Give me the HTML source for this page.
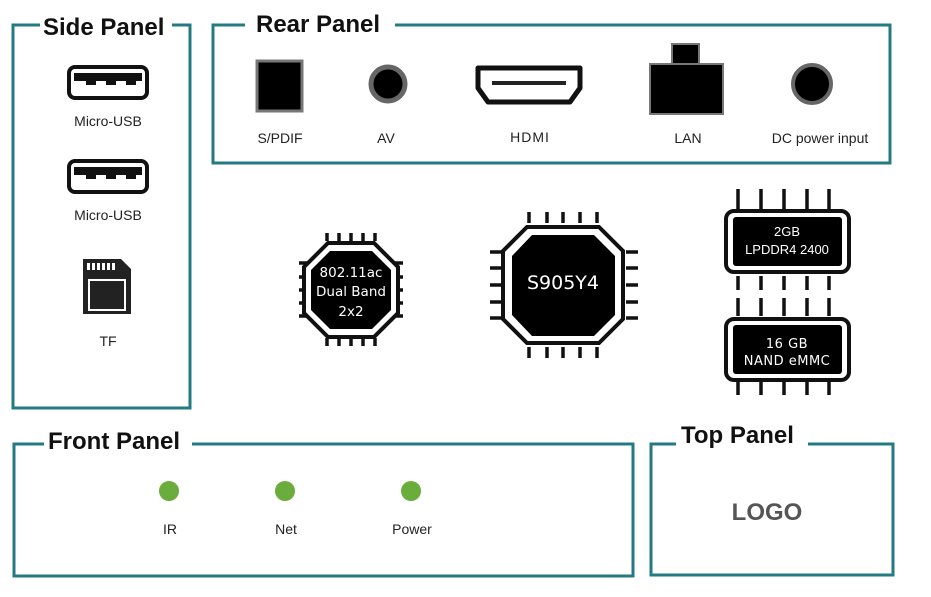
<!DOCTYPE html><html><head><style>body{margin:0;background:#fff}svg{display:block}svg text{font-family:"Liberation Sans",Arial,sans-serif}svg text.dv{font-family:"DejaVu Sans",sans-serif}</style></head><body>
<svg width="931" height="597" viewBox="0 0 931 597">
<g fill="none" stroke="#237a82" stroke-width="3">
<path d="M40 25H13V408H190V25H172"/>
<path d="M245 25H213V163H890V25H395"/>
<path d="M44 444H14V576H633V444H192"/>
<path d="M676 444H651V575H893V444H808"/>
</g>
<g font-weight="bold" font-size="24" fill="#111">
<text x="43" y="35">Side Panel</text>
<text x="256" y="32">Rear Panel</text>
<text x="48" y="449">Front Panel</text>
<text x="681" y="443">Top Panel</text>
</g>
<g font-size="14" fill="#222" text-anchor="middle">
<text x="108" y="126">Micro-USB</text>
<text x="108" y="220">Micro-USB</text>
<text x="108" y="346">TF</text>
<text x="280" y="143">S/PDIF</text>
<text x="386" y="143">AV</text>
<text x="530" y="142" letter-spacing="1">HDMI</text>
<text x="688" y="143">LAN</text>
<text x="820" y="143">DC power input</text>
<text x="170" y="534">IR</text>
<text x="286" y="534">Net</text>
<text x="412" y="534">Power</text>
</g>
<text x="767" y="520" text-anchor="middle" font-weight="bold" font-size="24" fill="#555">LOGO</text>
<g>
<rect x="69" y="67" width="78" height="31" rx="6" fill="none" stroke="#111" stroke-width="4"/>
<path d="M74 73h68v8h-6v4h-10v-4h-10v4h-10v-4h-10v4h-10v-4h-12z" fill="#111"/>
<rect x="69" y="161" width="78" height="31" rx="6" fill="none" stroke="#111" stroke-width="4"/>
<path d="M74 167h68v8h-6v4h-10v-4h-10v4h-10v-4h-10v4h-10v-4h-12z" fill="#111"/>
</g>
<path d="M83 259h38l10 10v45H83z" fill="#222"/>
<rect x="89" y="280" width="36" height="30" fill="none" stroke="#fff" stroke-width="2"/>
<g fill="#fff"><rect x="87" y="263" width="3" height="7"/><rect x="92" y="263" width="3" height="7"/><rect x="97" y="263" width="3" height="7"/><rect x="102" y="263" width="3" height="7"/><rect x="107" y="263" width="3" height="7"/><rect x="112" y="263" width="3" height="7"/></g>
<rect x="257" y="61" width="45" height="50" fill="#000" stroke="#777" stroke-width="3"/>
<circle cx="388" cy="84" r="17" fill="#000" stroke="#666" stroke-width="5"/>
<path d="M478 68h102v20l-10 14h-82l-10-14z" fill="none" stroke="#111" stroke-width="5" stroke-linejoin="round"/>
<rect x="492" y="81" width="74" height="4" fill="#222"/>
<rect x="672" y="44" width="27" height="20" fill="#000" stroke="#777" stroke-width="2"/>
<rect x="650" y="64" width="73" height="50" fill="#000" stroke="#777" stroke-width="2"/>
<circle cx="812" cy="84" r="19" fill="#000" stroke="#666" stroke-width="4"/>
<g fill="#6aad3c"><circle cx="169" cy="491" r="10"/><circle cx="285" cy="491" r="10"/><circle cx="411" cy="491" r="10"/></g>
<g stroke="#111" stroke-width="3.5">
<path d="M327 233v8M339 233v8M351 233v8M363 233v8M375 233v8M327 338v8M339 338v8M351 338v8M363 338v8M375 338v8M299 263h8M299 277h8M299 290h8M299 303h8M299 316h8M395 263h8M395 277h8M395 290h8M395 303h8M395 316h8"/>
</g>
<path d="M328 243h46l24 24v46l-24 24h-46l-24-24v-46z" fill="#fff" stroke="#111" stroke-width="4"/>
<path d="M330 251h42l19 19v40l-19 19h-42l-19-19v-40z" fill="#000"/>
<g fill="#fff" font-size="13.5" text-anchor="middle"><text class="dv" x="351" y="277">802.11ac</text><text class="dv" x="351" y="296">Dual Band</text><text class="dv" x="351" y="316">2x2</text></g>
<g stroke="#111" stroke-width="3.5">
<path d="M529 212v11M547 212v11M563 212v11M580 212v11M597 212v11M529 347v11M547 347v11M563 347v11M580 347v11M597 347v11M490 252h12M490 268h12M490 285h12M490 302h12M490 318h12M626 252h12M626 268h12M626 285h12M626 302h12M626 318h12"/>
</g>
<path d="M527 227h72l24 24v68l-24 24h-72l-24-24v-68z" fill="#fff" stroke="#111" stroke-width="4"/>
<path d="M532 235h62l21 21v59l-21 21h-62l-20-21v-59z" fill="#000"/>
<text class="dv" x="563" y="289" fill="#fff" font-size="19" text-anchor="middle">S905Y4</text>
<g stroke="#111" stroke-width="3.5">
<path d="M738 189v20M761 189v20M784 189v20M807 189v20M829 189v20M738 276v14M761 276v14M784 276v14M807 276v14M829 276v14M738 298v18M761 298v18M784 298v18M807 298v18M829 298v18M738 381v14M761 381v14M784 381v14M807 381v14M829 381v14"/>
</g>
<rect x="726" y="211" width="123" height="61" rx="8" fill="#fff" stroke="#111" stroke-width="4"/>
<rect x="733" y="217" width="109" height="49" rx="3" fill="#000"/>
<rect x="726" y="319" width="123" height="61" rx="8" fill="#fff" stroke="#111" stroke-width="4"/>
<rect x="733" y="325" width="109" height="49" rx="3" fill="#000"/>
<g fill="#fff" font-size="13" text-anchor="middle"><text x="787" y="236">2GB</text><text x="787" y="254">LPDDR4 2400</text></g>
<g fill="#fff" font-size="13" text-anchor="middle" letter-spacing="0.5"><text class="dv" x="787" y="348">16 GB</text><text class="dv" x="787" y="365">NAND eMMC</text></g>
</svg></body></html>
